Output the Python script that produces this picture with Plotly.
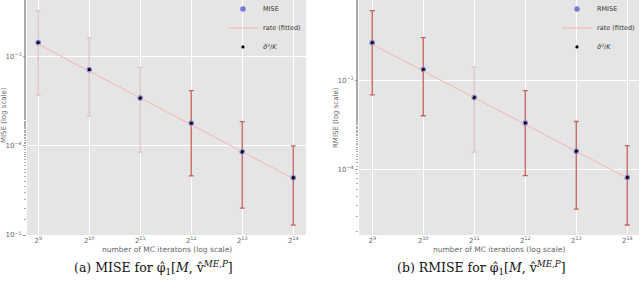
import plotly.graph_objects as go
import math

# ---- data ----
x_iter = [512, 1024, 2048, 4096, 8192, 16384]
x_ticktext = ["2<sup>9</sup>", "2<sup>10</sup>", "2<sup>11</sup>", "2<sup>12</sup>", "2<sup>13</sup>", "2<sup>14</sup>"]

mise = [1.44e-3, 7.15e-4, 3.44e-4, 1.79e-4, 8.6e-5, 4.4e-5]
mise_hi = [3.28e-3, 1.63e-3, 7.6e-4, 4.16e-4, 1.87e-4, 1.0e-4]
mise_lo = [3.72e-4, 2.16e-4, 8.5e-5, 4.6e-5, 2.0e-5, 1.29e-5]
mise_fit = [1.38e-3, 6.9e-4, 3.45e-4, 1.72e-4, 8.6e-5, 4.3e-5]
mise_bar_dark = [False, False, False, True, True, True]

rmise = [2.69e-3, 1.34e-3, 6.5e-4, 3.35e-4, 1.62e-4, 8.2e-5]
rmise_hi = [6.18e-3, 3.07e-3, 1.43e-3, 7.78e-4, 3.49e-4, 1.87e-4]
rmise_lo = [6.97e-4, 4.05e-4, 1.58e-4, 8.6e-5, 3.6e-5, 2.39e-5]
rmise_fit = [2.58e-3, 1.29e-3, 6.45e-4, 3.23e-4, 1.61e-4, 8.1e-5]
rmise_bar_dark = [True, True, False, True, True, True]

left_yticks = [1e-3, 1e-4, 1e-5]
left_yticktext = ["10<sup>−3</sup>", "10<sup>−4</sup>", "10<sup>−5</sup>"]
right_yticks = [1e-3, 1e-4]
right_yticktext = ["10<sup>−3</sup>", "10<sup>−4</sup>"]

RED = "#c4625c"
LIGHT = "#e2c2c2"
FITC = "#f2bcbc"
BLUE = "#7878d8"
TXT = "#666666"
BG = "#e5e5e5"

fig = go.Figure()


def add_panel(xa, ya, vals, hi, lo, fit, dark, name, legend):
    for i, xv in enumerate(x_iter):
        fig.add_trace(go.Scatter(
            x=[xv], y=[vals[i]], mode="markers",
            marker=dict(size=1, color="rgba(0,0,0,0)"),
            error_y=dict(type="data", symmetric=False,
                         array=[hi[i] - vals[i]], arrayminus=[vals[i] - lo[i]],
                         color=RED if dark[i] else LIGHT, thickness=1.3, width=2.5),
            showlegend=False, hoverinfo="skip", xaxis=xa, yaxis=ya))
    fig.add_trace(go.Scatter(x=x_iter, y=vals, mode="markers", name=name,
                             marker=dict(size=5.5, color=BLUE, line=dict(width=0)),
                             xaxis=xa, yaxis=ya, legend=legend))
    fig.add_trace(go.Scatter(x=x_iter, y=fit, mode="lines", name="rate (fitted)",
                             line=dict(color=FITC, width=1.1),
                             xaxis=xa, yaxis=ya, legend=legend))
    fig.add_trace(go.Scatter(x=x_iter, y=vals, mode="markers",
                             name="<i>σ̂</i><sup>2</sup>/<i>K</i>",
                             marker=dict(size=3.2, color="black"),
                             xaxis=xa, yaxis=ya, legend=legend))


add_panel("x", "y", mise, mise_hi, mise_lo, mise_fit, mise_bar_dark, "MISE", "legend")
add_panel("x2", "y2", rmise, rmise_hi, rmise_lo, rmise_fit, rmise_bar_dark, "RMISE", "legend2")

log2 = math.log10(2)
xcommon = dict(type="log", tickvals=x_iter, ticktext=x_ticktext, showgrid=True,
               gridcolor="white", gridwidth=1, zeroline=False, ticks="",
               tickfont=dict(size=7, color=TXT, family="DejaVu Sans"),
               showline=False)
ycommon = dict(type="log", showgrid=True, gridcolor="white", gridwidth=1,
               zeroline=False, ticks="outside", ticklen=3, tickcolor="#999999",
               tickfont=dict(size=7, color=TXT, family="DejaVu Sans"),
               minor=dict(ticks="outside", ticklen=2, tickcolor="#aaaaaa", showgrid=False),
               showline=False)

ydom = [1 - 235 / 281, 1.0]
legfont = dict(size=6.5, color="#333333", family="DejaVu Sans")
fig.update_layout(
    width=640, height=281,
    margin=dict(l=0, r=0, t=0, b=0, autoexpand=False),
    paper_bgcolor="white",
    plot_bgcolor=BG,
    xaxis=dict(domain=[27 / 640, 306 / 640], range=[8.78 * log2, 14.25 * log2],
               anchor="y", automargin=False, **xcommon),
    yaxis=dict(domain=ydom, range=[-5.0, -2.364], anchor="x", automargin=False,
               tickvals=left_yticks, ticktext=left_yticktext, **ycommon),
    xaxis2=dict(domain=[359 / 640, 639 / 640], range=[8.74 * log2, 14.23 * log2],
                anchor="y2", automargin=False, **xcommon),
    yaxis2=dict(domain=ydom, range=[-4.734, -2.09], anchor="x2", automargin=False,
                tickvals=right_yticks, ticktext=right_yticktext, **ycommon),
    legend=dict(x=223 / 640, y=1.02, xanchor="left", yanchor="top",
                bgcolor="rgba(0,0,0,0)", font=legfont, itemwidth=30, tracegroupgap=0),
    legend2=dict(x=557 / 640, y=1.02, xanchor="left", yanchor="top",
                 bgcolor="rgba(0,0,0,0)", font=legfont, itemwidth=30, tracegroupgap=0),
    showlegend=True,
)

annots = [
    dict(text="number of MC iteratons (log scale)", x=(27 + 306) / 2 / 640, y=1 - 249 / 281,
         xref="paper", yref="paper", showarrow=False, xanchor="center", yanchor="middle",
         font=dict(size=7.5, color=TXT, family="DejaVu Sans")),
    dict(text="number of MC iterations (log scale)", x=(359 + 639) / 2 / 640, y=1 - 249 / 281,
         xref="paper", yref="paper", showarrow=False, xanchor="center", yanchor="middle",
         font=dict(size=7.5, color=TXT, family="DejaVu Sans")),
    dict(text="MISE (log scale)", x=4 / 640, y=1 - 115 / 281, textangle=-90,
         xref="paper", yref="paper", showarrow=False, xanchor="center", yanchor="middle",
         font=dict(size=7, color=TXT, family="DejaVu Sans")),
    dict(text="RMISE (log scale)", x=336 / 640, y=1 - 118 / 281, textangle=-90,
         xref="paper", yref="paper", showarrow=False, xanchor="center", yanchor="middle",
         font=dict(size=7, color=TXT, family="DejaVu Sans")),
    dict(text="(a) MISE for φ̂<sub>1</sub>[<i>M</i>, v̂<sup><i>ME</i>,<i>P</i></sup>]",
         x=153 / 640, y=1 - 268 / 281, xref="paper", yref="paper", showarrow=False,
         xanchor="center", yanchor="middle",
         font=dict(size=12.5, color="#111111", family="DejaVu Serif")),
    dict(text="(b) RMISE for φ̂<sub>1</sub>[<i>M</i>, v̂<sup><i>ME</i>,<i>P</i></sup>]",
         x=481 / 640, y=1 - 268 / 281, xref="paper", yref="paper", showarrow=False,
         xanchor="center", yanchor="middle",
         font=dict(size=12.5, color="#111111", family="DejaVu Serif")),
]
fig.update_layout(annotations=annots)

fig.write_html("out.html", config={"displayModeBar": False},
               post_script="document.body.style.margin='0';document.body.style.overflow='hidden';")
